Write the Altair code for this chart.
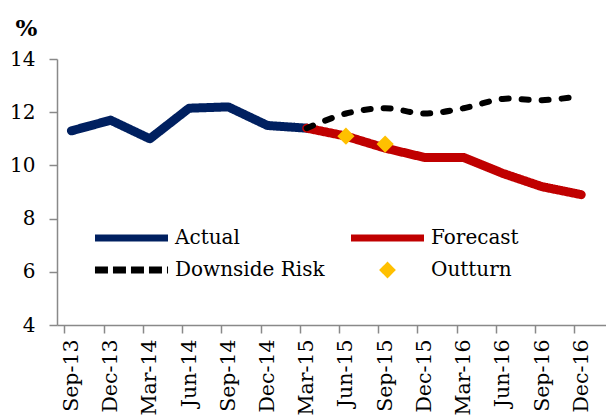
import altair as alt
import pandas as pd

# Quarterly categories on the horizontal axis
quarters = ["Sep-13", "Dec-13", "Mar-14", "Jun-14", "Sep-14", "Dec-14", "Mar-15",
            "Jun-15", "Sep-15", "Dec-15", "Mar-16", "Jun-16", "Sep-16", "Dec-16"]

# Actual rate, Sep-13 .. Mar-15
actual = [11.3, 11.7, 11.0, 12.15, 12.2, 11.5, 11.4]
# Central forecast and downside-risk path, Mar-15 .. Dec-16
forecast = [11.4, 11.1, 10.65, 10.3, 10.3, 9.7, 9.2, 8.9]
downside = [11.4, 11.95, 12.15, 11.95, 12.15, 12.5, 12.45, 12.6]
# Outturns published after the forecast was made
outturn_quarters = ["Jun-15", "Sep-15"]
outturn = [11.1, 10.8]

series_names = ["Actual", "Forecast", "Downside Risk", "Outturn"]
series_colors = ["#002060", "#C00000", "#000000", "#FFC000"]
# dash patterns used by the legend glyphs (butt caps)
legend_dash = [[1, 0], [1, 0], [13, 5], [1, 0]]
# dash pattern of the plotted downside-risk line (round caps)
DOWNSIDE_DASH = [7, 13]

# legend glyphs: a long horizontal stroke for the lines, a small diamond for the outturns
LINE_GLYPH = "M-4.87,0L4.87,0"
DIAMOND_GLYPH = "M0,-0.46L0.46,0L0,0.46L-0.46,0Z"
series_shapes = [LINE_GLYPH, LINE_GLYPH, LINE_GLYPH, DIAMOND_GLYPH]

FONT = "DejaVu Serif"
AXIS_GREY = "#898989"

rows = []
for i, v in enumerate(actual):
    rows.append({"quarter": quarters[i], "idx": i, "series": "Actual", "value": v})
start = quarters.index("Mar-15")
for j, v in enumerate(forecast):
    rows.append({"quarter": quarters[start + j], "idx": start + j, "series": "Forecast", "value": v})
for j, v in enumerate(downside):
    rows.append({"quarter": quarters[start + j], "idx": start + j, "series": "Downside Risk", "value": v})
for q, v in zip(outturn_quarters, outturn):
    rows.append({"quarter": q, "idx": quarters.index(q), "series": "Outturn", "value": v})
df = pd.DataFrame(rows)

x_enc = alt.X(
    "quarter:O",
    sort=quarters,
    scale=alt.Scale(type="point", paddingOuter=0.233, align=0.368),
    axis=alt.Axis(
        title=None, labelAngle=270, labelFont=FONT, labelFontSize=20.5, labelColor="black",
        labelPadding=6, tickSize=8, tickOffset=-7, labelOffset=7,
        domainColor=AXIS_GREY, tickColor=AXIS_GREY, domainWidth=1.5, tickWidth=1.5,
        grid=False, labelOverlap=False,
    ),
)
y_enc = alt.Y(
    "value:Q",
    scale=alt.Scale(domain=[4, 14], nice=False, zero=False),
    axis=alt.Axis(
        values=[4, 6, 8, 10, 12, 14], grid=False,
        labelFont=FONT, labelFontSize=20, labelColor="black", labelPadding=14,
        tickSize=8, domainColor=AXIS_GREY, tickColor=AXIS_GREY, domainWidth=1.5, tickWidth=1.5,
        title="%", titleAngle=0, titleFont=FONT, titleFontSize=23, titleFontWeight="bold",
        titleColor="black", titleX=-31, titleY=-24, titleAlign="center", titleBaseline="alphabetic",
    ),
)
color_enc = alt.Color("series:N", sort=series_names,
                      scale=alt.Scale(domain=series_names, range=series_colors),
                      legend=alt.Legend(title=None))
dash_enc = alt.StrokeDash("series:N", sort=series_names,
                          scale=alt.Scale(domain=series_names, range=legend_dash),
                          legend=alt.Legend(title=None))
shape_enc = alt.Shape("series:N", sort=series_names,
                      scale=alt.Scale(domain=series_names, range=series_shapes),
                      legend=alt.Legend(title=None))

base = alt.Chart(df)

solid = base.transform_filter(
    alt.FieldOneOfPredicate(field="series", oneOf=["Actual", "Forecast"])
).mark_line(strokeWidth=9, strokeCap="round", strokeJoin="round").encode(
    x=x_enc, y=y_enc, color=color_enc, strokeDash=dash_enc, order="idx:Q"
)

dashed = base.transform_filter(
    alt.datum.series == "Downside Risk"
).mark_line(strokeWidth=6, strokeCap="round", strokeJoin="round", strokeDash=DOWNSIDE_DASH,
            interpolate="catmull-rom").encode(
    x=x_enc, y=y_enc, color=color_enc, order="idx:Q"
)

points = base.transform_filter(
    alt.datum.series == "Outturn"
).mark_point(filled=True, opacity=1).encode(
    x=x_enc, y=y_enc, color=color_enc, shape=shape_enc, size=alt.value(1400)
)

chart = alt.layer(solid, dashed, points).properties(
    width=549, height=266,
    autosize=alt.AutoSizeParams(type="none"),
    padding={"left": 57, "top": 59, "right": 0, "bottom": 92},
    background="white",
).configure_view(stroke=None).configure_legend(
    orient="none", legendX=63.5, legendY=168, columns=2, direction="horizontal", padding=0,
    labelFont=FONT, labelFontSize=20, labelColor="black", labelOffset=32.5,
    symbolSize=225, symbolStrokeWidth=7, columnPadding=11, rowPadding=0,
    labelLimit=400,
)

chart.save("out.html", embed_options={"renderer": "svg", "actions": False})
